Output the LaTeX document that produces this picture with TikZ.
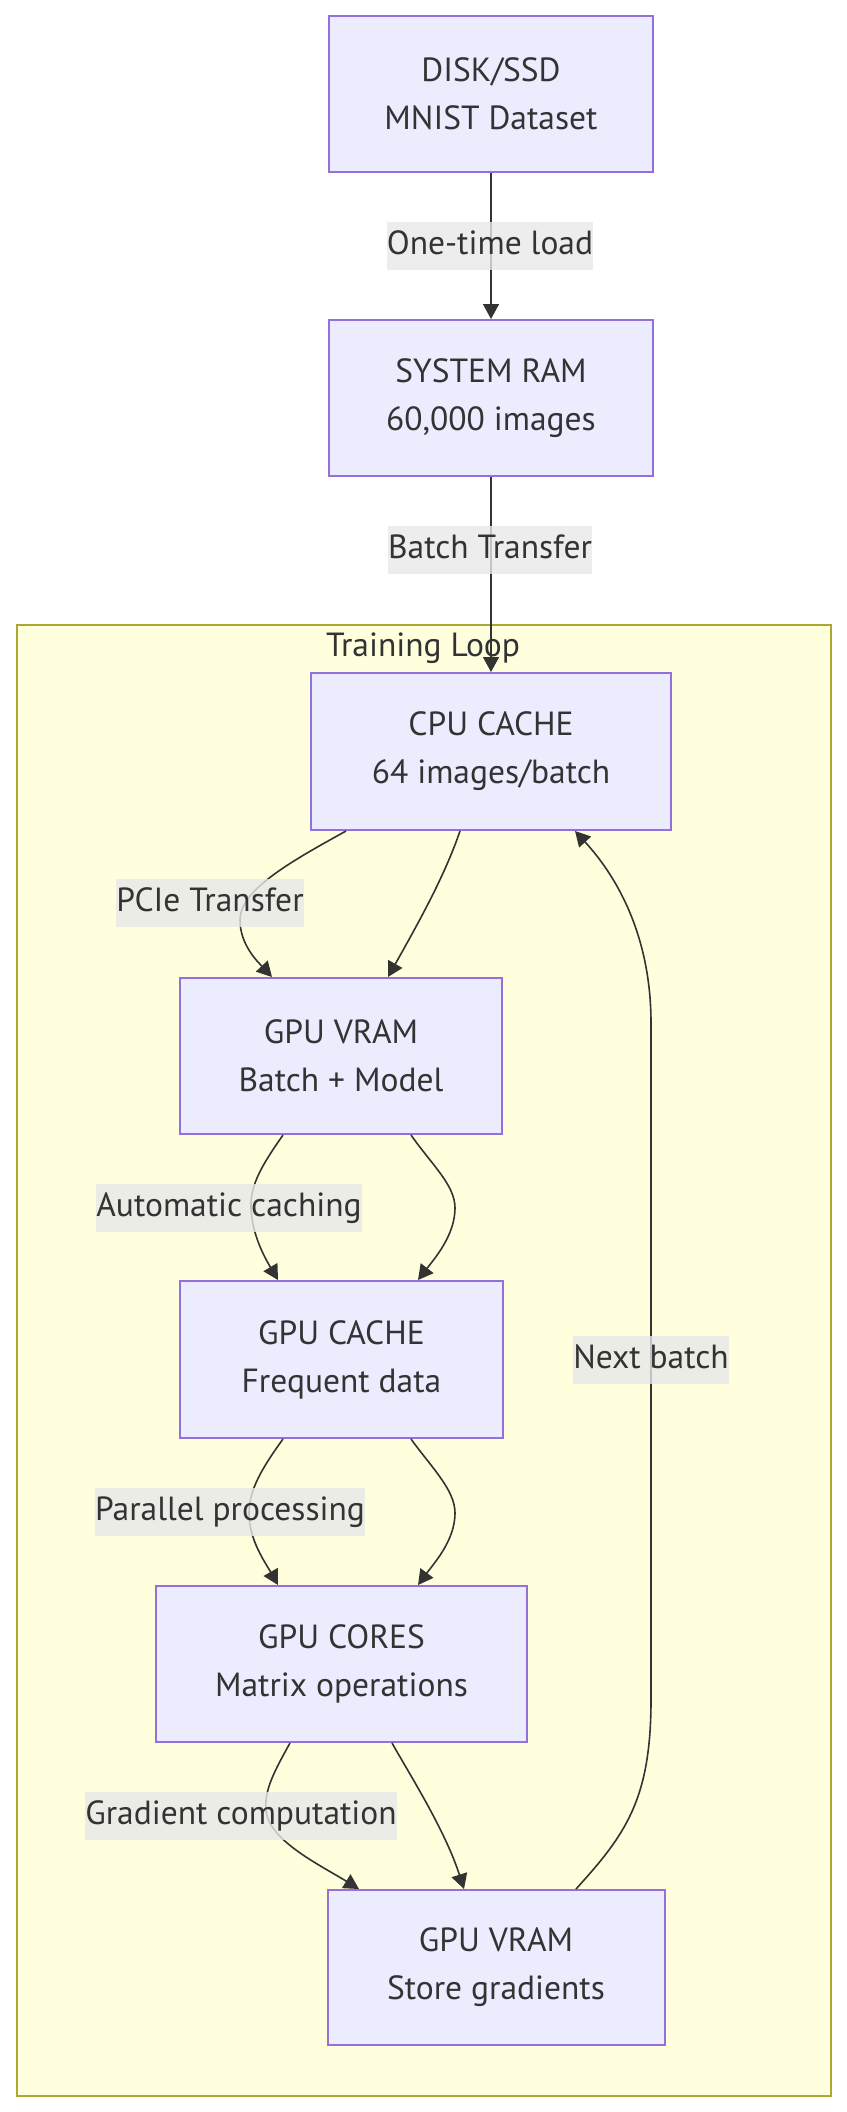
\documentclass[tikz,border=0pt]{standalone}
\usepackage{fontspec}
\setmainfont{PT Sans}
\usetikzlibrary{arrows.meta,calc}
\definecolor{nodefill}{HTML}{ECECFF}
\definecolor{nodeline}{HTML}{9370DB}
\definecolor{clfill}{HTML}{FFFFDE}
\definecolor{clline}{HTML}{AAAA33}
\definecolor{txt}{HTML}{333333}
\definecolor{lblbg}{HTML}{E8E8E8}
\begin{document}
\begin{tikzpicture}[x=1pt,y=-1pt,
 box/.style={draw=nodeline,fill=nodefill,line width=2pt,align=center,text=txt,font=\fontsize{33.5}{48}\selectfont,inner sep=0pt},
 lbl/.style={fill=lblbg,fill opacity=0.8,text opacity=1,text=txt,font=\fontsize{33.5}{48}\selectfont,inner xsep=0pt,inner ysep=0pt,text height=24pt,text depth=8pt,minimum height=48pt},
 edge/.style={draw=txt,line width=1.6pt,-{Triangle[length=15pt,width=16pt]}}]
\useasboundingbox (0,0) rectangle (846,2112);
\node[draw=clline,fill=clfill,line width=2pt,minimum width=814pt,minimum height=1471pt,anchor=north west,inner sep=0pt] (loop) at (15.6,624) {};
\node[text=txt,font=\fontsize{33.5}{48}\selectfont] (looplbl) at (423,648) {Training Loop};

\node[box,minimum width=324pt,minimum height=156pt] (disk) at (491,94) {DISK/SSD\\MNIST Dataset};
\node[box,minimum width=324pt,minimum height=156pt] (ram) at (491,398) {SYSTEM RAM\\60,000 images};
\node[box,minimum width=360pt,minimum height=157pt] (cpu) at (491,751.5) {CPU CACHE\\64 images/batch};
\node[box,minimum width=322pt,minimum height=156pt] (vram) at (341,1056) {GPU VRAM\\Batch + Model};
\node[box,minimum width=323pt,minimum height=157pt] (gcache) at (341.5,1359.5) {GPU CACHE\\Frequent data};
\node[box,minimum width=371pt,minimum height=156pt] (cores) at (341.5,1664) {GPU CORES\\Matrix operations};
\node[box,minimum width=337pt,minimum height=155pt] (vram2) at (496,1967.5) {GPU VRAM\\Store gradients};

\draw[edge] (disk.south) -- (ram.north);
\draw[edge] (ram.south) -- (cpu.north);
\draw[edge] ($(cpu.south)+(-145,0)$) .. controls (290,862) and (240,890) .. (240,920) .. controls (240,945) and (258,962) .. ($(vram.north)+(-69,0)$);
\draw[edge] ($(cpu.south)+(-31,0)$) .. controls (445,875) and (420,920) .. ($(vram.north)+(47,0)$);
\draw[edge] ($(vram.south)+(-58,0)$) .. controls (262,1165) and (250,1185) .. (251,1208) .. controls (252,1235) and (265,1258) .. ($(gcache.north)+(-63.5,0)$);
\draw[edge] ($(vram.south)+(70,0)$) .. controls (432,1165) and (455,1185) .. (455,1208) .. controls (455,1235) and (435,1258) .. ($(gcache.north)+(76.5,0)$);
\draw[edge] ($(gcache.south)+(-58.5,0)$) .. controls (262,1468) and (249,1490) .. (249,1513) .. controls (249,1540) and (265,1562) .. ($(cores.north)+(-63.5,0)$);
\draw[edge] ($(gcache.south)+(69.5,0)$) .. controls (432,1468) and (455,1490) .. (455,1513) .. controls (455,1540) and (435,1562) .. ($(cores.north)+(76.5,0)$);
\draw[edge] ($(cores.south)+(-51.5,0)$) .. controls (275,1770) and (264,1790) .. (266,1810) .. controls (268,1840) and (320,1865) .. ($(vram2.north)+(-137,0)$);
\draw[edge] ($(cores.south)+(50.5,0)$) .. controls (410,1775) and (445,1830) .. ($(vram2.north)+(-32,0)$);
\draw[edge] ($(vram2.north)+(80,0)$) .. controls (625,1835) and (651,1800) .. (651,1700) -- (651,1023) .. controls (651,940) and (620,880) .. ($(cpu.south)+(84,0)$);

\node[lbl] (l1) at (490,246) {One-time load};
\node[lbl] (l2) at (490,550) {Batch Transfer};
\node[lbl] (l3) at (210,903) {PCIe Transfer};
\node[lbl] (l4) at (229,1208) {Automatic caching};
\node[lbl] (l5) at (230,1512) {Parallel processing};
\node[lbl] (l6) at (241,1816) {Gradient computation};
\node[lbl] (l7) at (651,1360) {Next batch};
\end{tikzpicture}
\end{document}
